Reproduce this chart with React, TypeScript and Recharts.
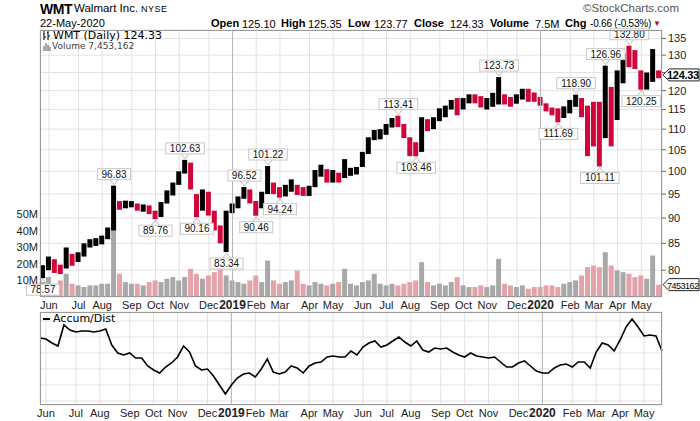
import React from 'react';
import {
  ComposedChart,
  Bar,
  Line,
  XAxis,
  YAxis,
  CartesianGrid,
  Cell,
  ReferenceDot,
  ReferenceLine,
} from 'recharts';

// weekly bars, week ending Fridays from 25-May-2018 to 22-May-2020
const weeks: string[] = [];
for (let i = 0; i < 105; i++) {
  weeks.push(new Date(Date.UTC(2018, 4, 25) + i * 7 * 86400000).toISOString().slice(0, 10));
}

const highs = [
  80.9, 82.5, 82.0, 81.0, 84.2, 83.0, 83.3, 85.0, 85.8, 86.0, 86.5, 88.1, 96.83, 93.5, 93.6, 93.5,
  93.0, 92.8, 92.6, 91.5, 93.3, 95.8, 97.5, 100.0, 102.63, 102.0, 95.0, 96.0, 95.5, 91.5, 88.5, 91.5,
  93.0, 94.5, 96.52, 96.0, 93.5, 95.5, 101.22, 97.5, 96.5, 97.0, 98.2, 97.0, 96.5, 96.8, 100.3, 101.5,
  100.5, 100.3, 99.7, 102.8, 100.8, 101.0, 104.5, 108.0, 109.8, 110.0, 111.3, 112.8, 113.41, 111.3, 108.0, 106.8,
  113.0, 112.5, 113.0, 115.3, 116.0, 117.5, 118.0, 118.0, 119.0, 119.0, 118.5, 118.0, 119.4, 123.73, 119.0, 118.3,
  119.0, 120.5, 120.5, 119.5, 118.3, 116.6, 115.5, 115.3, 115.8, 117.5, 118.9, 118.0, 116.0, 117.0, 117.0, 126.96,
  121.0, 125.6, 130.5, 132.8, 131.5, 125.6, 125.0, 131.8, 125.6,
];
const lows = [
  78.57, 80.0, 79.5, 79.3, 80.3, 80.8, 81.5, 82.5, 84.2, 84.5, 84.8, 85.8, 87.5, 91.7, 92.0, 92.2,
  91.5, 91.3, 90.8, 89.76, 90.2, 93.0, 94.7, 97.0, 99.5, 96.0, 90.16, 91.5, 90.5, 87.5, 85.0, 83.34,
  91.0, 92.0, 94.0, 93.0, 90.46, 92.0, 95.0, 95.0, 94.24, 94.5, 95.5, 94.8, 94.6, 94.6, 96.5, 98.8,
  97.5, 97.5, 97.5, 98.5, 99.0, 99.3, 101.0, 104.0, 107.3, 107.5, 108.6, 110.4, 110.5, 107.8, 103.5, 103.46,
  104.5, 109.5, 110.0, 112.0, 113.0, 115.0, 113.5, 115.0, 116.6, 116.6, 115.5, 115.0, 115.7, 116.3, 116.3, 115.7,
  116.5, 117.6, 117.0, 117.0, 116.0, 114.5, 113.5, 111.69, 112.8, 114.0, 115.7, 113.0, 103.5, 105.8, 101.11, 107.8,
  105.8, 112.3, 122.0, 126.5, 126.0, 120.25, 120.3, 122.4, 123.4,
];
const closes = [
  80.2, 82.0, 80.3, 79.6, 83.5, 81.3, 82.8, 84.5, 85.0, 85.6, 86.2, 87.8, 92.5, 92.3, 93.0, 93.2,
  92.0, 92.4, 91.0, 90.5, 92.8, 95.2, 97.2, 99.6, 102.0, 97.0, 91.5, 95.5, 91.0, 88.5, 86.0, 91.0,
  92.5, 94.0, 95.8, 93.5, 92.0, 95.2, 97.5, 96.0, 95.0, 96.5, 97.5, 95.5, 95.3, 96.5, 99.8, 101.0,
  98.5, 99.5, 98.5, 99.5, 100.2, 100.5, 104.0, 107.5, 108.7, 109.5, 111.0, 112.3, 111.0, 109.0, 104.5, 104.0,
  111.5, 110.5, 112.5, 114.5, 115.5, 116.5, 114.5, 117.5, 118.5, 117.5, 116.0, 117.5, 117.8, 118.5, 117.5, 117.0,
  118.5, 119.5, 118.5, 118.0, 117.0, 115.0, 114.0, 113.8, 114.5, 117.0, 117.0, 114.5, 113.0, 108.0, 104.0, 115.0,
  114.0, 124.0, 129.0, 128.0, 127.5, 121.0, 123.5, 125.0, 124.33,
];
// volume in millions of shares
const volumes = [
  9, 12, 8, 10, 14, 8, 7, 6, 7, 7, 8, 8, 45, 14, 9, 8,
  8, 7, 9, 10, 9, 11, 12, 10, 12, 17, 14, 11, 13, 15, 17, 13,
  10, 9, 8, 10, 13, 9, 22, 10, 8, 9, 10, 16, 8, 7, 9, 8,
  7, 8, 9, 17, 8, 7, 9, 10, 14, 8, 7, 8, 7, 8, 9, 10,
  21, 9, 7, 8, 7, 9, 12, 7, 6, 6, 7, 6, 7, 23, 8, 7,
  6, 7, 5, 6, 6, 7, 7, 6, 8, 9, 10, 13, 18, 19, 18, 27,
  19, 16, 15, 14, 12, 13, 11, 25, 7.45,
];
const accumDist = [
  44, 42, 34, 28, 70, 60, 56, 58, 58, 56, 58, 62, 30, 14, 10, 14,
  4, 4, -12, -20, -26, -14, -6, 6, 28, 16, -12, -20, -18, -32, -50, -68,
  -50, -36, -28, -26, -34, -18, 2, -24, -28, -24, -12, -16, -26, -12, -6, -4,
  6, 8, 6, 6, 18, 10, 26, 34, 38, 26, 30, 38, 46, 36, 28, 38,
  20, 16, 24, 22, 24, 16, 10, 6, 14, 8, 6, 4, 6, -4, -14, -14,
  -6, -2, -12, -22, -26, -26, -16, -10, -8, -14, -4, -4, -16, 16, 34, 30,
  18, 40, 66, 82, 66, 48, 50, 48, 18,
];

const monthNames = ['Jan', 'Feb', 'Mar', 'Apr', 'May', 'Jun', 'Jul', 'Aug', 'Sep', 'Oct', 'Nov', 'Dec'];
const priceTicks = [80, 85, 90, 95, 100, 105, 110, 115, 120, 125, 130, 135];
const volumeTicks = [10, 20, 30, 40, 50];
const adTicks = [-82, -50, -18, 14, 46, 78];

// peak / trough callouts: week index and which end of the bar
const callouts: [number, 'high' | 'low'][] = [
  [0, 'low'], [12, 'high'], [19, 'low'], [24, 'high'], [26, 'low'], [31, 'low'], [34, 'high'],
  [36, 'low'], [38, 'high'], [40, 'low'], [60, 'high'], [63, 'low'], [77, 'high'], [87, 'low'],
  [90, 'high'], [94, 'low'], [95, 'high'], [99, 'high'], [101, 'low'],
];

const quoteLabels = ['Open', 'High', 'Low', 'Close', 'Volume', 'Chg'];
const quoteValues = ['125.10', '125.35', '123.77', '124.33', '7.5M', '-0.66 (-0.53%)'];
const lastVolume = 7453162;

const FONT = '"Liberation Sans", Arial, sans-serif';
const RED = '#d0063a';

const rows = weeks.map((date, i) => ({
  date,
  range: [lows[i], highs[i]],
  volume: volumes[i],
  ad: accumDist[i],
  down: i > 0 && closes[i] < closes[i - 1],
}));

const lastClose = closes[closes.length - 1];
const monthTicks = weeks.filter((d, i) => i > 0 && d.slice(5, 7) !== weeks[i - 1].slice(5, 7));
const yearTicks = monthTicks.filter((d) => d.slice(5, 7) === '01');

function MonthTick(props: any) {
  const d = props.payload.value as string;
  const m = Number(d.slice(5, 7));
  const isYear = m === 1;
  return (
    <text
      x={props.x}
      y={props.baseY}
      textAnchor="middle"
      fontSize={isYear ? 12 : 11}
      fontWeight={isYear ? 'bold' : 'normal'}
      fill="#222"
      fontFamily={FONT}
    >
      {isYear ? d.slice(0, 4) : monthNames[m - 1]}
    </text>
  );
}

// right axis label, left out where the last-price tag sits on top of it
function PriceTick(props: any) {
  const v = props.payload.value as number;
  if (Math.abs(v - lastClose) < 2) return <g />;
  return (
    <text x={props.x} y={props.y + 4} fontSize={11} fill="#222" fontFamily={FONT}>
      {v}
    </text>
  );
}

function Callout({ cx, cy, text, below }: any) {
  const w = text.length * 5.6 + 5;
  const h = 11;
  const by = below ? cy + 6 : cy - 6 - h;
  const edge = below ? by : by + h;
  const tip = below ? cy + 1 : cy - 1;
  return (
    <g>
      <polyline points={`${cx - 4},${edge} ${cx},${tip} ${cx + 4},${edge}`} fill="none" stroke="#bbb" />
      <rect x={cx - w / 2} y={by} width={w} height={h} fill="#fff" stroke="#c8c8c8" />
      <text x={cx} y={by + h - 2} textAnchor="middle" fontSize={10} fill="#111" fontFamily={FONT}>
        {text}
      </text>
    </g>
  );
}

function SideTag({ x, y, text, bold }: any) {
  return (
    <g>
      <polygon
        points={`${x + 1},${y} ${x + 7},${y - 6} ${x + 37},${y - 6} ${x + 37},${y + 6} ${x + 7},${y + 6}`}
        fill="#fff"
        stroke="#222"
      />
      <text
        x={x + 5}
        y={y + 4}
        fontSize={bold ? 11 : 9}
        letterSpacing={bold ? -0.3 : -0.5}
        fontWeight={bold ? 'bold' : 'normal'}
        fill="#000"
        fontFamily={FONT}
      >
        {text}
      </text>
    </g>
  );
}

const abs = (left: number, top: number, extra: React.CSSProperties = {}): React.CSSProperties => ({
  position: 'absolute',
  left,
  top,
  whiteSpace: 'nowrap',
  lineHeight: 1,
  ...extra,
});

const quoteLabelX = [211, 281, 348, 414, 490, 565];
const quoteValueX = [242, 308, 374, 450, 535, 590];

export default function App() {
  return (
    <div style={{ position: 'absolute', left: 0, top: 0, width: 700, height: 421, background: '#fff', fontFamily: FONT, color: '#000' }}>
      {/* header */}
      <div style={abs(40, 2, { fontSize: 14, fontWeight: 'bold', letterSpacing: -0.5 })}>WMT</div>
      <div style={abs(74, 3, { fontSize: 11.5 })}>Walmart Inc.</div>
      <div style={abs(141, 5, { fontSize: 9, letterSpacing: 0.5 })}>NYSE</div>
      <div style={abs(583, 3, { fontSize: 11.5, color: '#555' })}>©StockCharts.com</div>
      <div style={abs(40, 18, { fontSize: 11 })}>22-May-2020</div>
      {quoteLabels.map((l, i) => (
        <div key={l} style={abs(quoteLabelX[i], 18, { fontSize: 11, fontWeight: 'bold' })}>{l}</div>
      ))}
      {quoteValues.map((v, i) => (
        <div key={v} style={abs(quoteValueX[i], 18.5, { fontSize: i === 5 ? 10 : 11, letterSpacing: i === 5 ? -0.2 : 0 })}>{v}</div>
      ))}
      <div style={abs(653, 20, { fontSize: 8, color: '#a01030' })}>▼</div>

      {/* price + volume panel */}
      <div style={abs(0, 0)}>
        <ComposedChart width={700} height={312} data={rows} margin={{ top: 30, right: 0, bottom: 0, left: 0 }}>
          <CartesianGrid xAxisId="main" yAxisId="price" stroke="#e2e2e2" />
          <XAxis
            xAxisId="main"
            dataKey="date"
            height={15}
            ticks={monthTicks}
            interval={0}
            axisLine={false}
            tickLine={false}
            tick={(p: any) => <MonthTick {...p} baseY={309} />}
          />
          <XAxis xAxisId="vol" dataKey="date" hide />
          <YAxis
            yAxisId="vol"
            orientation="left"
            width={40}
            domain={[0, 161]}
            ticks={volumeTicks}
            interval={0}
            tickFormatter={(v) => `${v}M`}
            axisLine={false}
            tickLine={false}
            tickSize={0}
            tickMargin={2}
            tick={{ fontSize: 11, fill: '#222', fontFamily: FONT }}
          />
          <YAxis
            yAxisId="price"
            orientation="right"
            width={38}
            scale="log"
            type="number"
            domain={[75.3, 137.6]}
            allowDataOverflow
            ticks={priceTicks}
            interval={0}
            axisLine={false}
            tickLine={{ stroke: '#666' }}
            tickSize={4}
            tickMargin={2}
            tick={(p: any) => <PriceTick {...p} />}
          />
          {yearTicks.map((d) => (
            <ReferenceLine key={d} xAxisId="main" yAxisId="price" x={d} stroke="#b5b5b5" />
          ))}
          <Bar xAxisId="vol" yAxisId="vol" dataKey="volume" barSize={5} isAnimationActive={false}>
            {rows.map((r) => (
              <Cell key={r.date} fill={r.down ? '#e3a3a8' : '#a8a8a8'} />
            ))}
          </Bar>
          <Bar xAxisId="main" yAxisId="price" dataKey="range" barSize={5} isAnimationActive={false}>
            {rows.map((r) => (
              <Cell key={r.date} fill={r.down ? RED : '#000'} />
            ))}
          </Bar>
          {callouts.map(([i, side]) => {
            const v = side === 'high' ? highs[i] : lows[i];
            return (
              <ReferenceDot
                key={`${i}-${side}`}
                xAxisId="main"
                yAxisId="price"
                x={weeks[i]}
                y={v}
                r={0}
                shape={(p: any) => <Callout cx={p.cx} cy={p.cy} text={v.toFixed(2)} below={side === 'low'} />}
              />
            );
          })}
          <ReferenceLine
            xAxisId="main"
            yAxisId="price"
            y={lastClose}
            shape={(p: any) => <SideTag x={Math.max(p.x1, p.x2)} y={p.y1} text={lastClose.toFixed(2)} bold />}
          />
          <ReferenceLine
            xAxisId="main"
            yAxisId="vol"
            y={lastVolume / 1e6}
            shape={(p: any) => <SideTag x={Math.max(p.x1, p.x2)} y={p.y1} text={String(lastVolume)} />}
          />
        </ComposedChart>
      </div>
      <div style={abs(40, 30, { width: 622, height: 267, border: '1px solid #9a9a9a', boxSizing: 'border-box', pointerEvents: 'none' })} />
      <div style={abs(43, 30, { fontSize: 11, fontFamily: '"DejaVu Sans", sans-serif', display: 'flex', alignItems: 'center', height: 11 })}>
        <svg width={7} height={9} style={{ marginRight: 3 }}>
          <path d="M1 0V9M0 3H1M1 6H3M5 0V9M4 2H5M5 5H7" stroke="#000" />
        </svg>
        WMT (Daily) 124.33
      </div>
      <div style={abs(43, 42, { fontSize: 9, color: '#444', fontFamily: '"DejaVu Sans", sans-serif', display: 'flex', alignItems: 'center', height: 9 })}>
        <svg width={8} height={8} style={{ marginRight: 1 }}>
          <path d="M1 3V8M3 0V8M5 2V8M7 4V8" stroke="#555" />
        </svg>
        Volume 7,453,162
      </div>

      {/* accumulation / distribution panel */}
      <div style={abs(0, 300)}>
        <ComposedChart width={700} height={121} data={rows} margin={{ top: 12, right: 38, bottom: 0, left: 40 }}>
          <CartesianGrid xAxisId="main" yAxisId="ad" stroke="#e2e2e2" />
          <XAxis
            xAxisId="main"
            dataKey="date"
            height={16}
            ticks={monthTicks}
            interval={0}
            axisLine={false}
            tickLine={false}
            tick={(p: any) => <MonthTick {...p} baseY={117} />}
          />
          <YAxis yAxisId="ad" hide domain={[-90, 96]} ticks={adTicks} interval={0} />
          {yearTicks.map((d) => (
            <ReferenceLine key={d} xAxisId="main" yAxisId="ad" x={d} stroke="#b5b5b5" />
          ))}
          <Line
            xAxisId="main"
            yAxisId="ad"
            type="linear"
            dataKey="ad"
            stroke="#000"
            strokeWidth={1.6}
            dot={false}
            isAnimationActive={false}
          />
        </ComposedChart>
      </div>
      <div style={abs(40, 312, { width: 622, height: 93, border: '1px solid #9a9a9a', boxSizing: 'border-box', pointerEvents: 'none' })} />
      <div style={abs(43, 313, { fontSize: 11, fontFamily: '"DejaVu Sans", sans-serif', display: 'flex', alignItems: 'center', height: 11 })}>
        <span style={{ display: 'inline-block', width: 7, height: 2, background: '#000', marginRight: 3 }} />
        Accum/Dist
      </div>
    </div>
  );
}
